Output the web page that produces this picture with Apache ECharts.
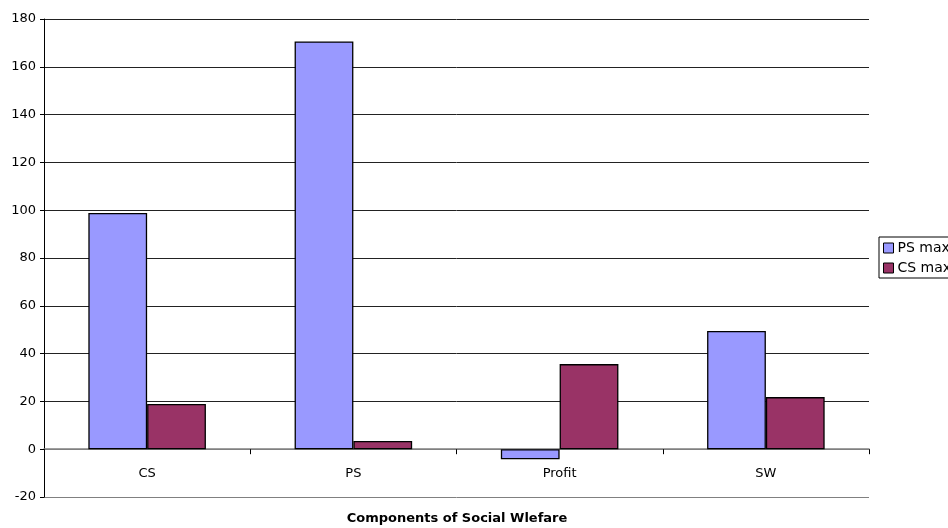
<!DOCTYPE html>
<html>
<head>
<meta charset="utf-8">
<script src="https://cdn.jsdelivr.net/npm/echarts@6/dist/echarts.min.js"></script>
<style>html,body{margin:0;padding:0;background:#fff}#c{width:948px;height:528px}</style>
</head>
<body>
<div id="c"></div>
<script>
const categories = ['CS', 'PS', 'Profit', 'SW'];
const psMax = [98.8, 170.6, -4.2, 49.5];
const csMax = [18.9, 3.4, 35.6, 21.8];
const seriesNames = ['PS max', 'CS max'];
const yTicks = { min: -20, max: 180, interval: 20 };
const xTitle = 'Components of Social Wlefare';

const font = 'DejaVu Sans';
const splitColors = ['#808080', '#808080'];
for (let i = 0; i < 9; i++) splitColors.push('#222');

const chart = echarts.init(document.getElementById('c'), null, { renderer: 'canvas' });
chart.setOption({
  animation: false,
  backgroundColor: '#fff',
  textStyle: { fontFamily: font },
  title: {
    text: xTitle,
    left: 457, top: 512, textAlign: 'center',
    padding: 0,
    textStyle: { fontWeight: 'bold', fontSize: 13, color: '#000', fontFamily: font }
  },
  grid: { left: 44, right: 79, top: 19, bottom: 31, containLabel: false, outerBoundsMode: 'none' },
  legend: {
    left: 879, top: 237,
    orient: 'vertical',
    borderColor: '#000', borderWidth: 1,
    padding: [4, 4, 3, 4],
    itemGap: 6,
    itemWidth: 10, itemHeight: 10,
    icon: 'rect',
    textStyle: { fontFamily: font, fontSize: 14, color: '#000', padding: [0, 0, 0, -1] },
    data: seriesNames.map(n => ({ name: n, itemStyle: { borderColor: '#000', borderWidth: 1 } }))
  },
  xAxis: {
    type: 'category',
    data: categories,
    boundaryGap: true,
    axisLine: { onZero: true, lineStyle: { color: '#808080', width: 1.5 } },
    axisTick: { show: true, length: 5, lineStyle: { color: '#000' } },
    axisLabel: { color: '#000', fontSize: 13, fontFamily: font, margin: -30 },
    splitLine: { show: false }
  },
  yAxis: {
    type: 'value',
    min: yTicks.min, max: yTicks.max, interval: yTicks.interval,
    axisLine: { show: true, lineStyle: { color: '#000' } },
    axisTick: { show: true, length: 4, lineStyle: { color: '#000' } },
    axisLabel: { color: '#000', fontSize: 13, fontFamily: font, margin: 8 },
    splitLine: { show: true, lineStyle: { color: splitColors, width: 1 } }
  },
  series: [
    {
      name: seriesNames[0], type: 'bar', data: psMax,
      barGap: '0%', barCategoryGap: '43%',
      itemStyle: { color: '#9999FF', borderColor: '#000', borderWidth: 1.3 }
    },
    {
      name: seriesNames[1], type: 'bar', data: csMax,
      barGap: '0%', barCategoryGap: '43%',
      itemStyle: { color: '#993366', borderColor: '#000', borderWidth: 1.3 }
    }
  ]
});
</script>
</body>
</html>
